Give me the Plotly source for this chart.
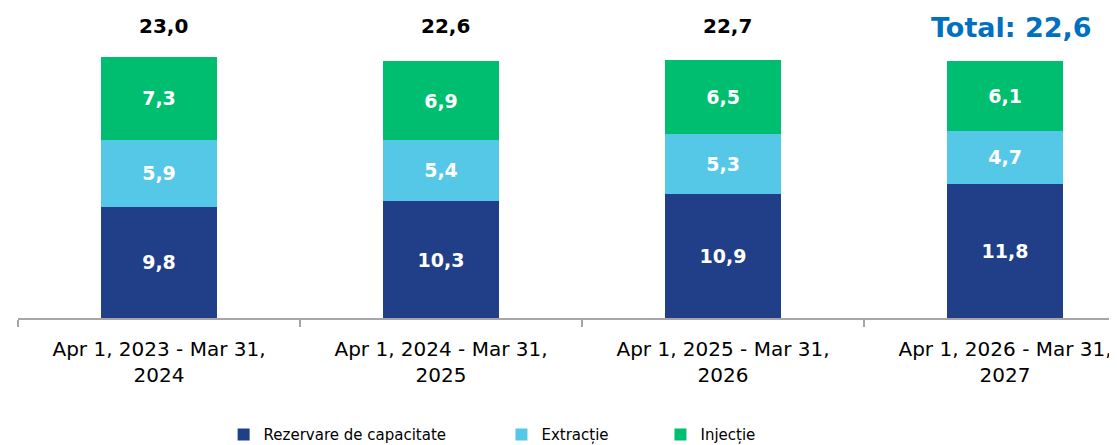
import plotly.graph_objects as go

categories = [
    "Apr 1, 2023 - Mar 31,<br>2024",
    "Apr 1, 2024 - Mar 31,<br>2025",
    "Apr 1, 2025 - Mar 31,<br>2026",
    "Apr 1, 2026 - Mar 31,<br>2027",
]
rezervare = [9.8, 10.3, 10.9, 11.8]
extractie = [5.9, 5.4, 5.3, 4.7]
injectie = [7.3, 6.9, 6.5, 6.1]
totals = [23.0, 22.6, 22.7, 22.6]

series = [
    ("Rezervare de capacitate", rezervare, "#203F88", "legend"),
    ("Extracție", extractie, "#55C8E8", "legend2"),
    ("Injecție", injectie, "#00BE6F", "legend3"),
]

FONT = "DejaVu Sans"
fig = go.Figure()
for name, vals, color, lg in series:
    fig.add_trace(go.Bar(
        x=categories, y=vals, name=name, legend=lg,
        marker=dict(color=color, line=dict(width=0)),
        texttemplate="%{y:.1f}", textposition="inside",
        insidetextanchor="middle",
        textfont=dict(family=FONT, size=19, color="white", weight="bold"),
        hoverinfo="skip",
    ))

def fmt(v):
    return f"{v:.1f}".replace(".", ",")

for i, (c, t) in enumerate(zip(categories, totals)):
    if i < len(categories) - 1:
        fig.add_annotation(x=c, y=25.7, text=fmt(t), showarrow=False, xshift=4,
                           font=dict(family=FONT, size=20, color="black", weight="bold"))
    else:
        fig.add_annotation(x=c, y=25.6, text="Total: " + fmt(t), showarrow=False,
                           xshift=6,
                           font=dict(family=FONT, size=27, color="#0070C0", weight="bold"))

leg_common = dict(orientation="h", xanchor="left", y=-0.377, yanchor="middle",
                  font=dict(family=FONT, size=15, color="black"),
                  bgcolor="rgba(0,0,0,0)", itemclick=False, itemdoubleclick=False)

fig.update_layout(
    width=1109, height=437,
    margin=dict(l=10, r=0, t=0, b=127, autoexpand=False),
    barmode="stack", bargap=0.589,
    separators=",.",
    plot_bgcolor="white", paper_bgcolor="white",
    showlegend=True,
    legend=dict(x=0.1871, **leg_common),
    legend2=dict(x=0.4399, **leg_common),
    legend3=dict(x=0.5846, **leg_common),
    xaxis=dict(range=[-0.5, 3.397], showline=True, linecolor="#A6A6A6", linewidth=2,
               ticks="outside", tickson="boundaries", ticklen=7, tickcolor="#A6A6A6",
               tickwidth=2, ticklabelstandoff=12,
               tickfont=dict(family=FONT, size=20, color="black"),
               showgrid=False, fixedrange=True),
    yaxis=dict(range=[0, 27.31], visible=False, showgrid=False, fixedrange=True),
)

fig.write_html("out.html")
